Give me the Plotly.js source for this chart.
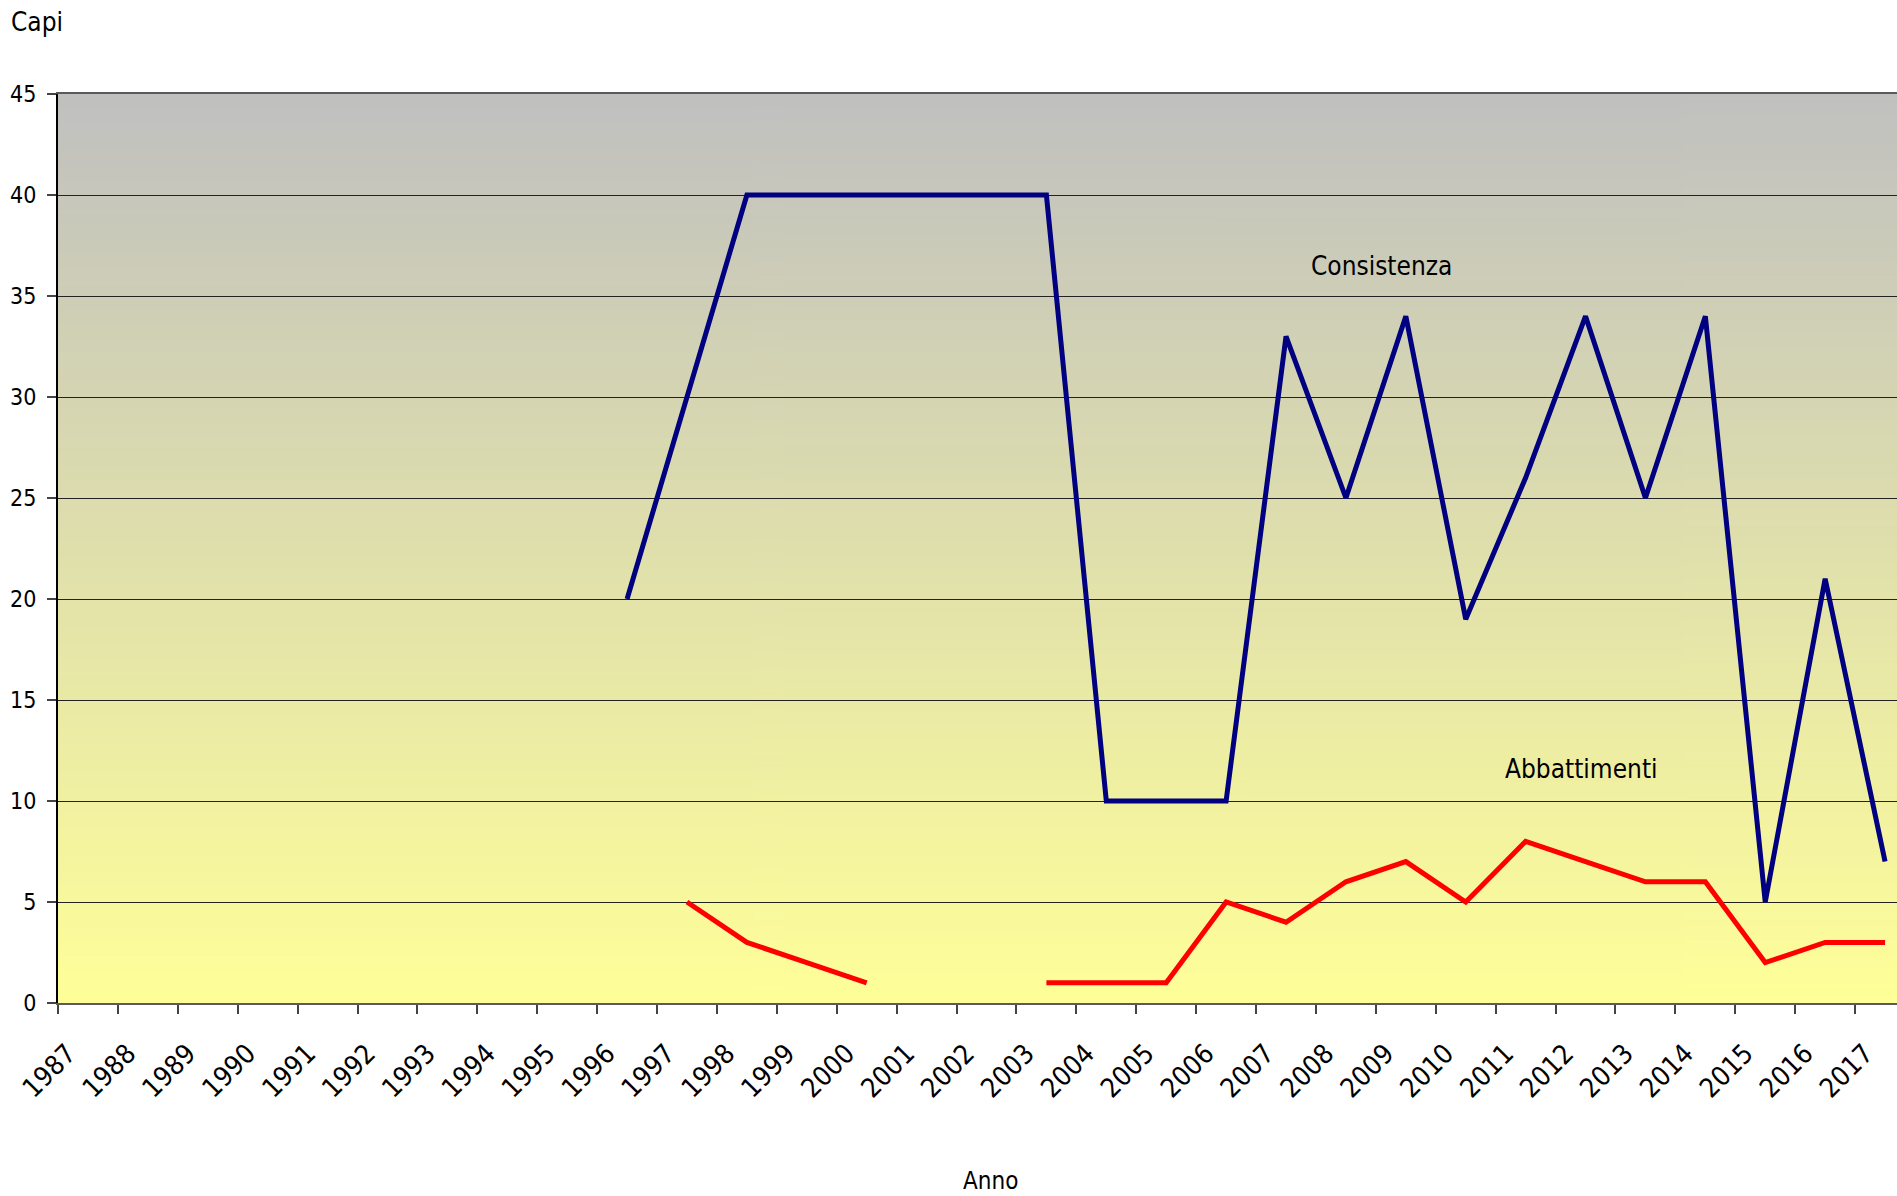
<!DOCTYPE html>
<html>
<head>
<meta charset="utf-8">
<script src="https://cdn.plot.ly/plotly-3.0.1.min.js"></script>
<style>
html, body { margin: 0; padding: 0; background: #ffffff; overflow: hidden; width: 1897px; height: 1196px; }
#chart { width: 1916px; height: 1196px; }
</style>
</head>
<body>
<div id="chart"></div>
<script>
// ---- data ----
const years = ["1987","1988","1989","1990","1991","1992","1993","1994","1995","1996",
  "1997","1998","1999","2000","2001","2002","2003","2004","2005","2006",
  "2007","2008","2009","2010","2011","2012","2013","2014","2015","2016","2017"];
const consistenza = [null,null,null,null,null,null,null,null,null,20,
  30,40,40,40,40,40,40,10,10,10,
  33,25,34,19,26,34,25,34,5,21,7];
const abbattimenti = [null,null,null,null,null,null,null,null,null,null,
  5,3,2,1,null,null,1,1,1,5,
  4,6,7,5,8,7,6,6,2,3,3];
const yTicks = [0,5,10,15,20,25,30,35,40,45];

const FONT = "DejaVu Sans Condensed, DejaVu Sans, sans-serif";

// gradient background image (grey top -> light yellow bottom)
const cv = document.createElement('canvas');
cv.width = 4; cv.height = 512;
const ctx = cv.getContext('2d');
const g = ctx.createLinearGradient(0, 0, 0, 512);
g.addColorStop(0, 'rgb(192,192,192)');
g.addColorStop(1, 'rgb(255,255,153)');
ctx.fillStyle = g;
ctx.fillRect(0, 0, 4, 512);
const bgURL = cv.toDataURL('image/png');

const traces = [
  { x: years, y: consistenza, type: 'scatter', mode: 'lines', name: 'Consistenza',
    line: { color: '#000080', width: 5 }, connectgaps: false, hoverinfo: 'x+y' },
  { x: years, y: abbattimenti, type: 'scatter', mode: 'lines', name: 'Abbattimenti',
    line: { color: '#ff0000', width: 5 }, connectgaps: false, hoverinfo: 'x+y' }
];

const layout = {
  width: 1916, height: 1196,
  margin: { l: 58, r: 1, t: 94, b: 193, pad: 0 },
  paper_bgcolor: '#ffffff',
  plot_bgcolor: 'rgba(0,0,0,0)',
  showlegend: false,
  font: { family: FONT, size: 22, color: '#000000' },
  images: [{ source: bgURL, xref: 'paper', yref: 'paper', x: 0, y: 1, sizex: 1, sizey: 1,
    xanchor: 'left', yanchor: 'top', sizing: 'stretch', layer: 'below' }],
  xaxis: {
    type: 'category', categoryorder: 'array', categoryarray: years,
    range: [-0.5, years.length - 0.5],
    tickson: 'boundaries', ticks: 'outside', ticklen: 9, tickwidth: 1.5, tickcolor: '#444444',
    tickangle: -45, tickfont: { family: FONT, size: 27, color: '#000000' },
    ticklabelstandoff: 22, ticklabelshift: -20,
    showgrid: false, zeroline: false,
    showline: true, linecolor: '#5a5a5a', linewidth: 2, mirror: true,
    fixedrange: true
  },
  yaxis: {
    range: [0, 45], tickvals: yTicks, ticktext: yTicks.map(String),
    ticks: 'outside', ticklen: 9, tickwidth: 1.5, tickcolor: '#444444',
    tickfont: { family: FONT, size: 23, color: '#000000' },
    ticklabelstandoff: 6,
    showgrid: true, gridcolor: '#222222', gridwidth: 1.2,
    zeroline: false, showline: true, linecolor: '#000000', linewidth: 2,
    fixedrange: true
  },
  annotations: [
    { text: 'Capi', xref: 'paper', yref: 'paper', x: (9 - 58) / 1857, y: 1 + (94 - 22) / 909,
      xanchor: 'left', yanchor: 'middle', showarrow: false, font: { family: FONT, size: 26, color: '#000000' } },
    { text: 'Anno', xref: 'paper', yref: 'paper', x: (990 - 58) / 1857, y: -(1181 - 1003) / 909,
      xanchor: 'center', yanchor: 'middle', showarrow: false, font: { family: FONT, size: 24, color: '#000000' } },
    { text: 'Consistenza', xref: 'x', yref: 'y', x: 21.6, y: 36.5,
      xanchor: 'center', yanchor: 'middle', showarrow: false, font: { family: FONT, size: 26, color: '#000000' } },
    { text: 'Abbattimenti', xref: 'x', yref: 'y', x: 24.93, y: 11.6,
      xanchor: 'center', yanchor: 'middle', showarrow: false, font: { family: FONT, size: 26, color: '#000000' } }
  ]
};

Plotly.newPlot('chart', traces, layout, { displayModeBar: false, responsive: false, staticPlot: false });
</script>
</body>
</html>
